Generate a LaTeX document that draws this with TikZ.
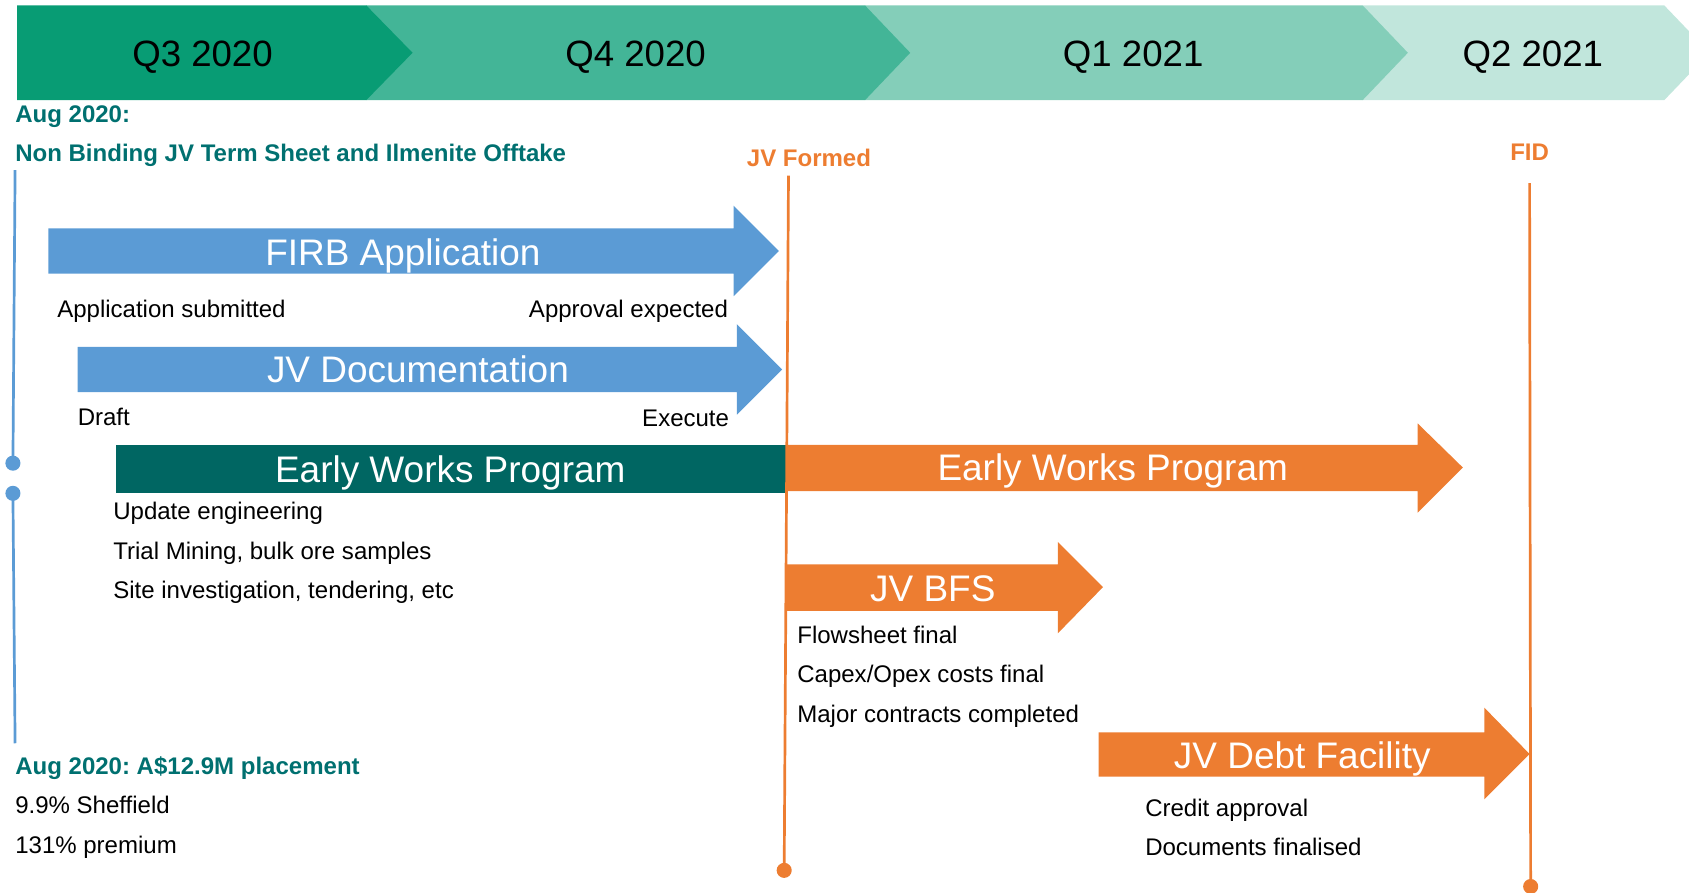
\documentclass[tikz,border=0pt]{standalone}
\usepackage{fontspec}
\setmainfont{Liberation Sans}
\frenchspacing
\definecolor{cqa}{RGB}{8,156,116}
\definecolor{cqb}{RGB}{67,181,151}
\definecolor{cqc}{RGB}{132,206,185}
\definecolor{cqd}{RGB}{193,230,220}
\definecolor{cteal}{RGB}{0,112,112}
\definecolor{cbar}{RGB}{0,102,98}
\definecolor{cblue}{RGB}{91,155,213}
\definecolor{corange}{RGB}{237,125,49}
\tikzset{
  qlabel/.style={inner sep=0pt, font=\fontsize{34}{40}\selectfont, text=black, text height=24.4pt, text depth=0pt},
  barlabel/.style={inner sep=0pt, font=\fontsize{34.3}{40}\selectfont, text=white, text height=24.5pt, text depth=0pt},
  bodytxt/.style={inner sep=0pt, anchor=west, font=\fontsize{22.3}{26}\selectfont, text=black, text height=16pt, text depth=0pt},
  bodytxtr/.style={bodytxt, anchor=east},
  tealtxt/.style={inner sep=0pt, anchor=west, font=\fontsize{22.3}{26}\selectfont\bfseries, text=cteal, text height=16pt, text depth=0pt},
  oratxt/.style={inner sep=0pt, font=\fontsize{22.3}{26}\selectfont\bfseries, text=corange, text height=16pt, text depth=0pt},
  blueline/.style={draw=cblue, line width=2.5pt},
  oraline/.style={draw=corange, line width=2.5pt},
}
\begin{document}
\begin{tikzpicture}[x=1pt,y=-1pt]
\useasboundingbox (0,0) rectangle (1568,829);
% banner chevrons
\fill[cqd] (1265,5)--(1545,5)--(1568,29)--(1568,69)--(1545,93)--(1265,93)--cycle;
\fill[cqc] (803,5)--(1265,5)--(1307,49)--(1265,93)--(803,93)--cycle;
\fill[cqb] (340,5)--(803,5)--(845,49)--(803,93)--(340,93)--cycle;
\fill[cqa] (16,5)--(340,5)--(383,49)--(340,93)--(16,93)--cycle;
\node[qlabel] (q3) at (188,50) {Q3 2020};
\node[qlabel] (q4) at (590,50) {Q4 2020};
\node[qlabel] (q1) at (1052,50) {Q1 2021};
\node[qlabel] (q2) at (1423,50) {Q2 2021};
% top-left notes
\node[tealtxt] (aug1) at (14,106) {Aug 2020:};
\node[tealtxt] (nb) at (14,142) {Non Binding JV Term Sheet and Ilmenite Offtake};
% milestones
\node[oratxt] (jvf) at (751,147) {JV Formed};
\node[oratxt] (fid) at (1420,141) {FID};
% blue timeline on left
\coordinate (bt) at (14,158);
\coordinate (bd1) at (12,430);
\coordinate (bd2) at (12,458);
\coordinate (bb) at (14,690);
\draw[blueline] (bt) -- (bd1);
\draw[blueline] (bd2) -- (bb);
\fill[cblue] (bd1) circle (7);
\fill[cblue] (bd2) circle (7);
% FIRB arrow
\fill[cblue] (45,212)--(681,212)--(681,191)--(723,233)--(681,275)--(681,254)--(45,254)--cycle;
\node[barlabel] (firb) at (374,234) {FIRB Application};
\node[bodytxt] (as) at (53,287) {Application submitted};
\node[bodytxtr] (ae) at (676,287) {Approval expected};
% JV documentation arrow
\fill[cblue] (72,322)--(684,322)--(684,301)--(726,343)--(684,385)--(684,364)--(72,364)--cycle;
\node[barlabel] (jvd) at (388,343) {JV Documentation};
\node[bodytxt] (dr) at (72,387) {Draft};
\node[bodytxtr] (ex) at (677,388) {Execute};
% Early works
\fill[cbar] (108,413) rectangle (730,458);
\node[barlabel] (ew1) at (418,436) {Early Works Program};
\fill[corange] (730,413)--(1316,413)--(1316,393)--(1358,434)--(1316,476)--(1316,456)--(730,456)--cycle;
\node[barlabel] (ew2) at (1033,434) {Early Works Program};
\node[bodytxt] (ue) at (105,474) {Update engineering};
\node[bodytxt] (tm) at (105,511) {Trial Mining, bulk ore samples};
\node[bodytxt] (si) at (105,548) {Site investigation, tendering, etc};
% JV BFS
\fill[corange] (730,524)--(982,524)--(982,503)--(1024,545)--(982,588)--(982,567)--(730,567)--cycle;
\node[barlabel] (bfs) at (866,546) {JV BFS};
\node[bodytxt] (ff) at (740,589) {Flowsheet final};
\node[bodytxt] (co) at (740,626) {Capex/Opex costs final};
\node[bodytxt] (mc) at (740,663) {Major contracts completed};
% JV Debt
\fill[corange] (1020,680)--(1378,680)--(1378,657)--(1420,700)--(1378,742)--(1378,721)--(1020,721)--cycle;
\node[barlabel] (debt) at (1209,701) {JV Debt Facility};
\node[bodytxt] (ca) at (1063,750) {Credit approval};
\node[bodytxt] (df) at (1063,786) {Documents finalised};
% bottom-left notes
\node[tealtxt] (aug2) at (14,711) {Aug 2020: A\$12.9M placement};
\node[bodytxt] (sh) at (14,747) {9.9\% Sheffield};
\node[bodytxt] (pr) at (14,784) {131\% premium};
% orange milestone lines
\coordinate (jt) at (732,163);
\coordinate (jb) at (728,808);
\draw[oraline] (jt) -- (jb);
\fill[corange] (jb) circle (7);
\coordinate (ft) at (1420,170);
\coordinate (fb) at (1421,823);
\draw[oraline] (ft) -- (fb);
\fill[corange] (fb) circle (7);
\end{tikzpicture}
\end{document}
